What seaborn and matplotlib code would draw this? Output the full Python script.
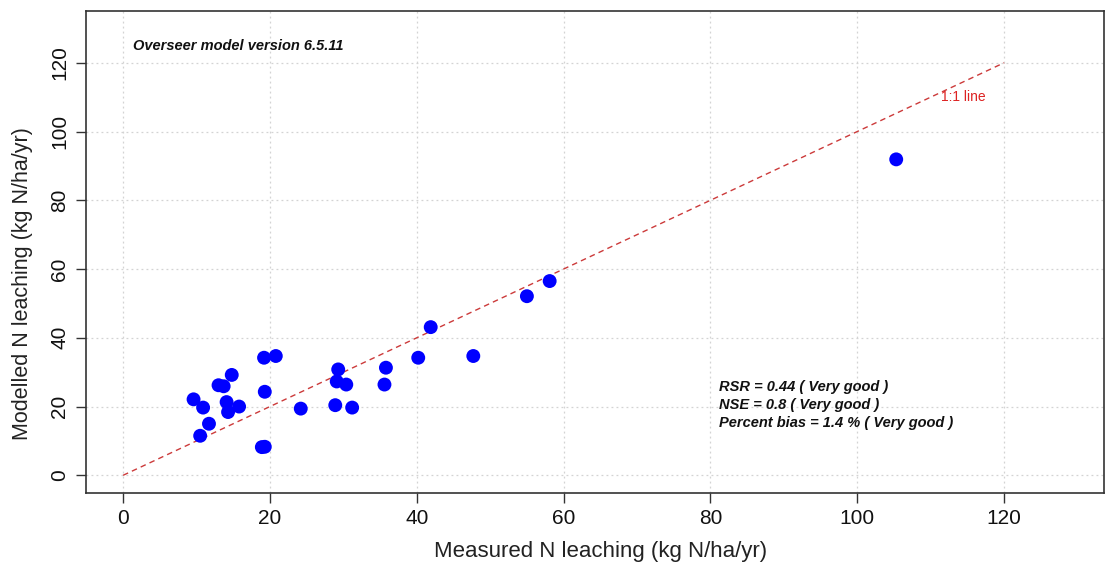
import matplotlib
matplotlib.use("Agg")
import matplotlib.pyplot as plt
import seaborn as sns
import pandas as pd

measured = [9.6, 10.9, 11.7, 10.5, 13.0, 13.7, 14.8, 14.1, 14.3, 15.8,
            19.2, 20.8, 19.3, 18.9, 19.3, 24.2, 29.3, 29.1, 30.4, 28.9,
            31.2, 35.8, 35.6, 41.9, 40.2, 47.7, 55.0, 58.1, 105.3]
modelled = [22.1, 19.7, 15.0, 11.5, 26.2, 25.9, 29.2, 21.3, 18.4, 20.0,
            34.2, 34.7, 24.3, 8.2, 8.3, 19.4, 30.8, 27.3, 26.4, 20.4,
            19.7, 31.3, 26.4, 43.1, 34.2, 34.7, 52.1, 56.5, 91.9]
ticks = [0, 20, 40, 60, 80, 100, 120]
one_to_one = [0, 120]

df = pd.DataFrame({"measured": measured, "modelled": modelled})

sns.set_style("white")
plt.rcParams["font.family"] = ["Liberation Sans", "DejaVu Sans"]

fig = plt.figure(figsize=(11.05, 5.65), dpi=100)
ax = fig.add_axes([86 / 1105, (565 - 492.5) / 565, (1104 - 86) / 1105, (492.5 - 10.5) / 565])

ax.set_xlim(-5.05, 133.6)
ax.set_ylim(-5.0, 135.2)
ax.set_xticks(ticks)
ax.set_yticks(ticks)
ax.grid(True, color="#d3d3d3", linestyle=(0, (1.5, 2.5)), linewidth=0.9)
ax.set_axisbelow(True)

sns.lineplot(x=one_to_one, y=one_to_one, ax=ax, color="#cc3a3a",
             linestyle=(0, (4, 3)), linewidth=1.0, zorder=2)
sns.scatterplot(data=df, x="measured", y="modelled", ax=ax, color="#0000ff",
                s=100, edgecolor="none", zorder=3)

ax.set_xlabel("Measured N leaching (kg N/ha/yr)", fontsize=16, color="#222222", labelpad=9)
ax.set_ylabel("Modelled N leaching (kg N/ha/yr)", fontsize=15.5, color="#222222", labelpad=12.5)
ax.xaxis.label.set_x(0.505)
ax.yaxis.label.set_y(0.433)
ax.tick_params(axis="both", direction="out", length=7, width=1, color="#333333",
               labelsize=15, labelcolor="#111111", left=True, bottom=True, pad=5)
for lab in ax.get_yticklabels():
    lab.set_rotation(90)
    lab.set_va("center")
for sp in ax.spines.values():
    sp.set_color("#333333")
    sp.set_linewidth(1.2)

ax.text(1.4, 125, "Overseer model version 6.5.11", fontsize=10.5, fontweight="bold",
        fontstyle="italic", ha="left", va="center", color="#111111")
ax.text(81.2, 25.6, "RSR = 0.44 ( Very good )", fontsize=10.5, fontweight="bold",
        fontstyle="italic", ha="left", va="center", color="#111111")
ax.text(81.2, 20.4, "NSE = 0.8 ( Very good )", fontsize=10.5, fontweight="bold",
        fontstyle="italic", ha="left", va="center", color="#111111")
ax.text(81.2, 15.3, "Percent bias = 1.4 % ( Very good )", fontsize=10.5, fontweight="bold",
        fontstyle="italic", ha="left", va="center", color="#111111")
ax.text(114.4, 109.9, "1:1 line", fontsize=10, ha="center", va="center", color="#dd2222")

fig.savefig("out.png", dpi=100)
